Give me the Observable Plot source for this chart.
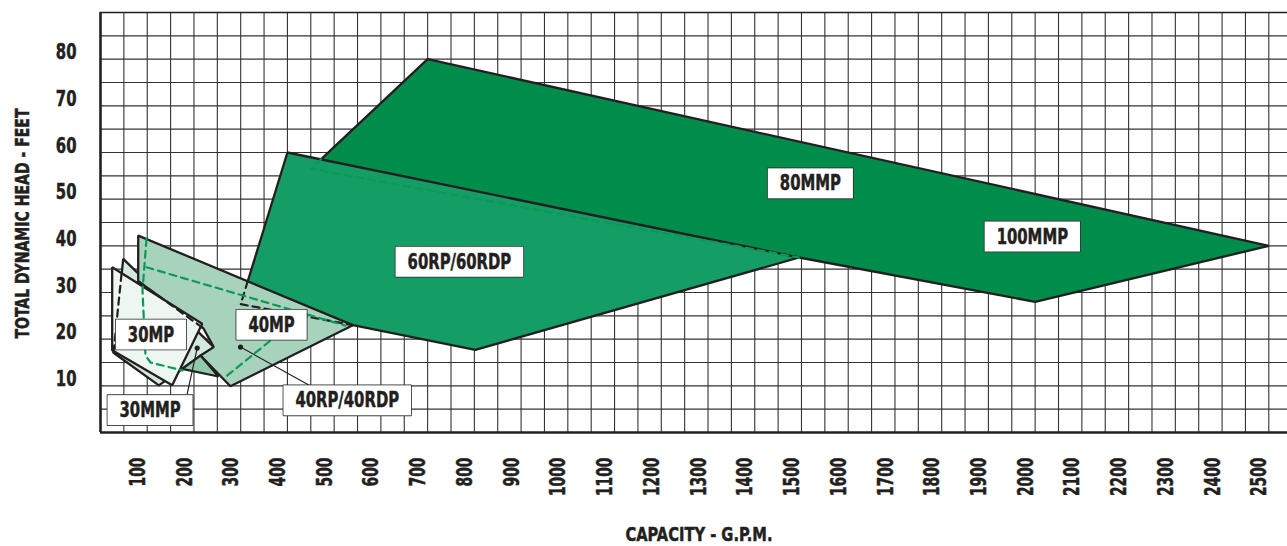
<!DOCTYPE html>
<html><head><meta charset="utf-8">
<script src="https://cdn.jsdelivr.net/npm/d3@7"></script>
<script src="https://cdn.jsdelivr.net/npm/@observablehq/plot@0.6"></script>
<style>html,body{margin:0;padding:0;background:#fff;}</style>
</head><body><div id="chart"></div>
<script>
const FONT = '"Liberation Sans Narrow","Arial Narrow","DejaVu Sans Condensed",sans-serif';
const INK = "#231f20";

// tick labels
const xTicks = [100,200,300,400,500,600,700,800,900,1000,1100,1200,1300,1400,1500,1600,1700,1800,1900,2000,2100,2200,2300,2400,2500];
const yTicks = [10,20,30,40,50,60,70,80];
// grid (every 50 GPM, every 5 ft)
const gridGPM = [50,100,150,200,250,300,350,400,450,500,550,600,650,700,750,800,850,900,950,1000,1050,1100,1150,1200,1250,1300,1350,1400,1450,1500,1550,1600,1650,1700,1750,1800,1850,1900,1950,2000,2050,2100,2150,2200,2250,2300,2350,2400,2450,2500];
const gridFeet = [5,10,15,20,25,30,35,40,45,50,55,60,65,70,75,80,85];

// pump regions [GPM, feet]
const mmp80 = [[450,56.5],[700,80],[2500,40],[2000,28],[1495,37.5]];
const rp60  = [[400,60],[1495,37.5],[802,17.7],[540,23],[300,27.5]];
const mmp30 = [[48.6,37.2],[242.4,18.3],[124.8,10.1],[27.8,17.1]];
const mp40  = [[80.7,42.2],[540,23],[278,9.9],[214,16.5],[242.4,18.3],[220.4,22.3],[80.7,32.4]];
const rp40Tri = [[174.8,13.65],[214,16.5],[252.5,12.0]];
const mp30  = [[25,35.4],[217.6,23.3],[153.4,10.1],[25,17.6]];

// hidden (dashed) outlines
const mmp80Hidden = [[471.6,58.5],[450,56.5],[1495,37.5]];
const rp60Hidden  = [[315,32.4],[300,27.5],[540,23]];
const mmp30Hidden = [[45,34],[27.8,17.1]];
const mp40Hidden  = [[80.7,32.4],[220.4,22.3]];
const rp40Left  = [[98.4,41.5],[89.9,30.4],[96.3,16.5],[107,15],[175.5,13.3]];
const rp40Top   = [[98.4,35.4],[524,22.9]];
const rp40Right = [[271,12.2],[428,24.9]];

// labels
const labels = [
  {name:"80MMP", gpm:1519, ft:53.4},
  {name:"100MMP", gpm:1994, ft:42},
  {name:"60RP/60RDP", gpm:768, ft:36.6},
  {name:"40MP", gpm:366, ft:23.1},
  {name:"30MP", gpm:108, ft:21},
  {name:"30MMP", gpm:106, ft:4.8},
  {name:"40RP/40RDP", gpm:528, ft:6.9}
];
const leader40 = [[299.6,18.3],[445.7,10.2]];
const leader30 = [[206.9,18.1],[185.5,8.3]];
const leaderDots = [leader40[0], leader30[0]];
const yTitle = "TOTAL DYNAMIC HEAD - FEET";
const xTitle = "CAPACITY - G.P.M.";

const px = d => d[0], py = d => d[1];
const region = (data, fill) => Plot.line(data, {x: px, y: py, curve: "linear-closed", fill, stroke: INK, strokeWidth: 2.3, strokeLinejoin: "miter"});
const dashed = (data, stroke) => Plot.line(data, {x: px, y: py, stroke, strokeWidth: 2.2, strokeDasharray: "7,5"});
const heavy = {fontWeight: "bold", fill: INK, stroke: INK, strokeWidth: 0.5};

const chart = Plot.plot({
  width: 1287, height: 546,
  marginLeft: 100, marginRight: 0, marginTop: 12, marginBottom: 114,
  x: {domain: [0, 2540], axis: null},
  y: {domain: [0, 90], axis: null},
  style: {fontFamily: FONT, background: "#fff", color: INK},
  marks: [
    Plot.ruleX(gridGPM, {stroke: "#333", strokeWidth: 1.1}),
    Plot.ruleY(gridFeet, {stroke: "#333", strokeWidth: 1.1}),
    region(mmp80, "#008c4a"),
    region(rp60, "#149e66"),
    region(mmp30, "#d3e9dc"),
    region(mp40, "#a7d3bd"),
    region(rp40Tri, "#8fcaab"),
    region(mp30, "#edf6f1"),
    dashed(mmp80Hidden, "#0b9a55"),
    dashed(rp60Hidden, INK),
    dashed(mmp30Hidden, INK),
    dashed(mp40Hidden, INK),
    dashed(rp40Left, "#0b9a55"),
    dashed(rp40Top, "#0b9a55"),
    dashed(rp40Right, "#0b9a55"),
    Plot.line(leader40, {x: px, y: py, stroke: INK, strokeWidth: 1.2}),
    Plot.line(leader30, {x: px, y: py, stroke: INK, strokeWidth: 1.2}),
    Plot.dot(leaderDots, {x: px, y: py, r: 2.6, fill: INK, stroke: "none"}),
    Plot.ruleX([0], {stroke: INK, strokeWidth: 2.6}),
    Plot.ruleY([0], {stroke: INK, strokeWidth: 2.6}),
    Plot.ruleY([90], {stroke: INK, strokeWidth: 1.6}),
    Plot.text(xTicks, {x: d => d, y: 0, text: d => String(d), rotate: -90, textAnchor: "end", dy: 25, dx: -9, fontSize: 20.5, ...heavy}),
    Plot.text(yTicks, {x: 0, y: d => d, text: d => String(d), textAnchor: "end", dx: -24, dy: -7, fontSize: 22, ...heavy}),
    Plot.text([yTitle], {frameAnchor: "left", dx: -78, dy: 116, rotate: -90, textAnchor: "start", fontSize: 20, ...heavy}),
    Plot.text([xTitle], {frameAnchor: "bottom", dy: 108, dx: 5, fontSize: 20, ...heavy}),
    Plot.text(labels, {x: "gpm", y: "ft", text: "name", fontSize: 22, ...heavy})
  ]
});
document.getElementById("chart").append(chart);

// condense the lettering (the original uses a very narrow face)
const fixedLength = {[yTitle]: 230, [xTitle]: 147};
chart.querySelectorAll("text").forEach(t => {
  const s = t.textContent;
  const natural = t.getComputedTextLength();
  const target = fixedLength[s] !== undefined ? fixedLength[s] : natural * 0.75;
  t.setAttribute("textLength", target);
  t.setAttribute("lengthAdjust", "spacingAndGlyphs");
});

// white boxes behind the pump labels
const names = new Set(labels.map(d => d.name));
chart.querySelectorAll("text").forEach(t => {
  if (!names.has(t.textContent)) return;
  const b = t.getBBox();
  const r = document.createElementNS("http://www.w3.org/2000/svg", "rect");
  r.setAttribute("x", b.x - 12);
  r.setAttribute("y", b.y - 2);
  r.setAttribute("width", b.width + 24);
  r.setAttribute("height", b.height + 5);
  r.setAttribute("fill", "#fff");
  r.setAttribute("stroke", "#2b2b2b");
  r.setAttribute("stroke-width", 1.6);
  const tr = t.getAttribute("transform");
  if (tr) r.setAttribute("transform", tr);
  t.parentNode.insertBefore(r, t);
});
</script></body></html>
